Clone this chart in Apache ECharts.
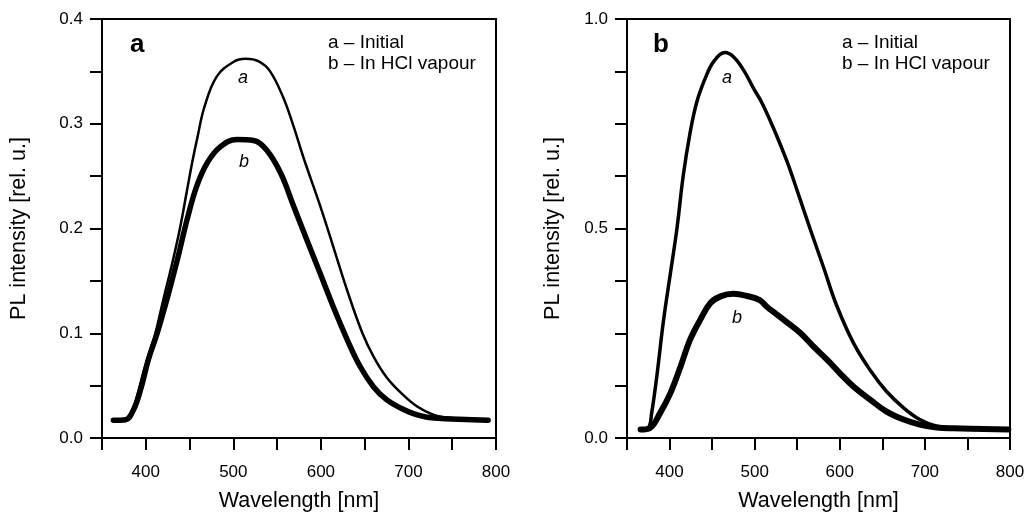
<!DOCTYPE html>
<html>
<head>
<meta charset="utf-8">
<script src="https://cdn.jsdelivr.net/npm/echarts@6/dist/echarts.min.js"></script>
<style>
  html, body { margin: 0; padding: 0; background: #fff; }
  #chart { width: 1028px; height: 512px; }
</style>
</head>
<body>
<div id="chart"></div>
<script>
// Panel a: [wavelength nm, PL intensity]
const panelA_initial = [
    [363, 0.017], [376, 0.018], [384, 0.025], [390, 0.040], [397, 0.062], [405, 0.084],
    [411, 0.100], [420, 0.132], [430, 0.166], [439, 0.200], [447, 0.236], [453, 0.263],
    [459, 0.287], [467, 0.316], [481, 0.345], [500, 0.359], [514, 0.362], [529, 0.3595],
    [542, 0.350], [557, 0.325], [569, 0.297], [580, 0.268], [599, 0.222], [614, 0.183],
    [630, 0.141], [647, 0.101], [660, 0.078], [675, 0.058], [691, 0.0435], [710, 0.030],
    [729, 0.022], [748, 0.019], [791, 0.017]
];
const panelA_hcl = [
    [363, 0.017], [377, 0.0175], [386, 0.027], [394, 0.046], [403, 0.075], [413, 0.100],
    [424, 0.132], [436, 0.170], [447, 0.208], [458, 0.240], [470, 0.2625], [485, 0.278],
    [504, 0.285], [523, 0.284], [538, 0.275], [554, 0.253], [569, 0.221], [584, 0.189],
    [599, 0.1575], [614, 0.1256], [630, 0.094], [645, 0.068], [660, 0.049], [675, 0.0366],
    [691, 0.0286], [710, 0.022], [729, 0.019], [791, 0.017]
];
// Panel b
const panelB_initial = [
    [366, 0.020], [375, 0.024], [379, 0.060], [385, 0.147], [393, 0.282], [401, 0.393],
    [409, 0.505], [416, 0.625], [424, 0.727], [432, 0.802], [442, 0.859], [452, 0.899],
    [465, 0.920], [475, 0.910], [487, 0.878], [499, 0.833], [508, 0.802], [522, 0.740],
    [538, 0.660], [550, 0.590], [565, 0.500], [581, 0.407], [596, 0.318], [616, 0.227],
    [636, 0.161], [655, 0.111], [675, 0.072], [694, 0.044], [714, 0.028], [733, 0.024],
    [773, 0.0215], [798, 0.020]
];
const panelB_hcl = [
    [366, 0.020], [377, 0.024], [389, 0.060], [401, 0.107], [413, 0.171], [424, 0.234],
    [436, 0.282], [448, 0.322], [460, 0.338], [475, 0.344], [491, 0.339], [506, 0.329],
    [515, 0.312], [524, 0.298], [538, 0.276], [554, 0.250], [569, 0.2185], [585, 0.187],
    [600, 0.155], [616, 0.123], [636, 0.091], [655, 0.063], [675, 0.044], [694, 0.032],
    [714, 0.025], [733, 0.023], [798, 0.020]
];

const xTicks = { min: 350, max: 800, step: 50 };
const yMaxA = 0.4, yStepA = 0.05;
const yMaxB = 1.0, yStepB = 0.125;
const legendLines = ['a \u2013 Initial', 'b \u2013 In HCl vapour'];

const FONT = '"Liberation Sans", Arial, sans-serif';

const chart = echarts.init(document.getElementById('chart'), null, { renderer: 'canvas' });

const grids = [
    { left: 102, top: 19, width: 394, height: 419 },
    { left: 627, top: 19, width: 383, height: 419 }
];

const xAxisOpt = (gridIndex) => ({
    type: 'value',
    gridIndex: gridIndex,
    min: xTicks.min,
    max: xTicks.max,
    interval: xTicks.step,
    name: 'Wavelength [nm]',
    nameLocation: 'middle',
    nameGap: 52,
    nameTextStyle: { fontFamily: FONT, fontSize: 21.5, color: '#000' },
    axisLine: { show: true, onZero: false, lineStyle: { color: '#000', width: 2 } },
    axisTick: { show: true, length: 12, lineStyle: { color: '#000', width: 2 } },
    axisLabel: {
        fontFamily: FONT, fontSize: 17, color: '#000', margin: 26,
        formatter: (v) => (v % 100 === 0 ? String(v) : '')
    },
    splitLine: { show: false }
});

const yAxisOpt = (gridIndex, max, step, labelEvery, gap) => ({
    type: 'value',
    gridIndex: gridIndex,
    min: 0,
    max: max,
    interval: step,
    name: 'PL intensity [rel. u.]',
    nameLocation: 'middle',
    nameGap: gap,
    nameTextStyle: { fontFamily: FONT, fontSize: 21.5, color: '#000' },
    axisLine: { show: true, onZero: false, lineStyle: { color: '#000', width: 2 } },
    axisTick: { show: true, length: 12, lineStyle: { color: '#000', width: 2 } },
    axisLabel: {
        fontFamily: FONT, fontSize: 17, color: '#000', margin: 19,
        formatter: (v) => {
            const k = v / labelEvery;
            return Math.abs(k - Math.round(k)) < 1e-6 ? v.toFixed(1) : '';
        }
    },
    splitLine: { show: false }
});

const lineSeries = (idx, data, width) => ({
    type: 'line',
    xAxisIndex: idx,
    yAxisIndex: idx,
    data: data,
    smooth: 0.4,
    showSymbol: false,
    silent: true,
    lineStyle: { color: '#000', width: width, cap: 'round', join: 'round' }
});

const txt = (x, y, text, opts) => ({
    type: 'text',
    x: x,
    y: y,
    style: Object.assign({
        text: text,
        fill: '#000',
        font: '19px ' + FONT,
        textVerticalAlign: 'middle'
    }, opts || {})
});

chart.setOption({
    animation: false,
    backgroundColor: '#fff',
    grid: grids.map(g => Object.assign({
        show: true, borderColor: '#000', borderWidth: 2, backgroundColor: 'transparent',
        containLabel: false, outerBoundsMode: 'none'
    }, g)),
    xAxis: [xAxisOpt(0), xAxisOpt(1)],
    yAxis: [yAxisOpt(0, yMaxA, yStepA, 0.1, 72), yAxisOpt(1, yMaxB, yStepB, 0.5, 63)],
    series: [
        lineSeries(0, panelA_initial, 2.5),
        lineSeries(0, panelA_hcl, 5.5),
        lineSeries(1, panelB_initial, 3.5),
        lineSeries(1, panelB_hcl, 6)
    ],
    graphic: [
        txt(130, 45, 'a', { font: 'bold 26px ' + FONT }),
        txt(653, 45, 'b', { font: 'bold 26px ' + FONT }),
        txt(328, 43, legendLines[0]),
        txt(328, 64, legendLines[1]),
        txt(842, 43, legendLines[0]),
        txt(842, 64, legendLines[1]),
        txt(243, 78, 'a', { font: 'italic 18px ' + FONT, textAlign: 'center' }),
        txt(244, 162, 'b', { font: 'italic 18px ' + FONT, textAlign: 'center' }),
        txt(727, 78, 'a', { font: 'italic 18px ' + FONT, textAlign: 'center' }),
        txt(737, 318, 'b', { font: 'italic 18px ' + FONT, textAlign: 'center' })
    ]
});
</script>
</body>
</html>
